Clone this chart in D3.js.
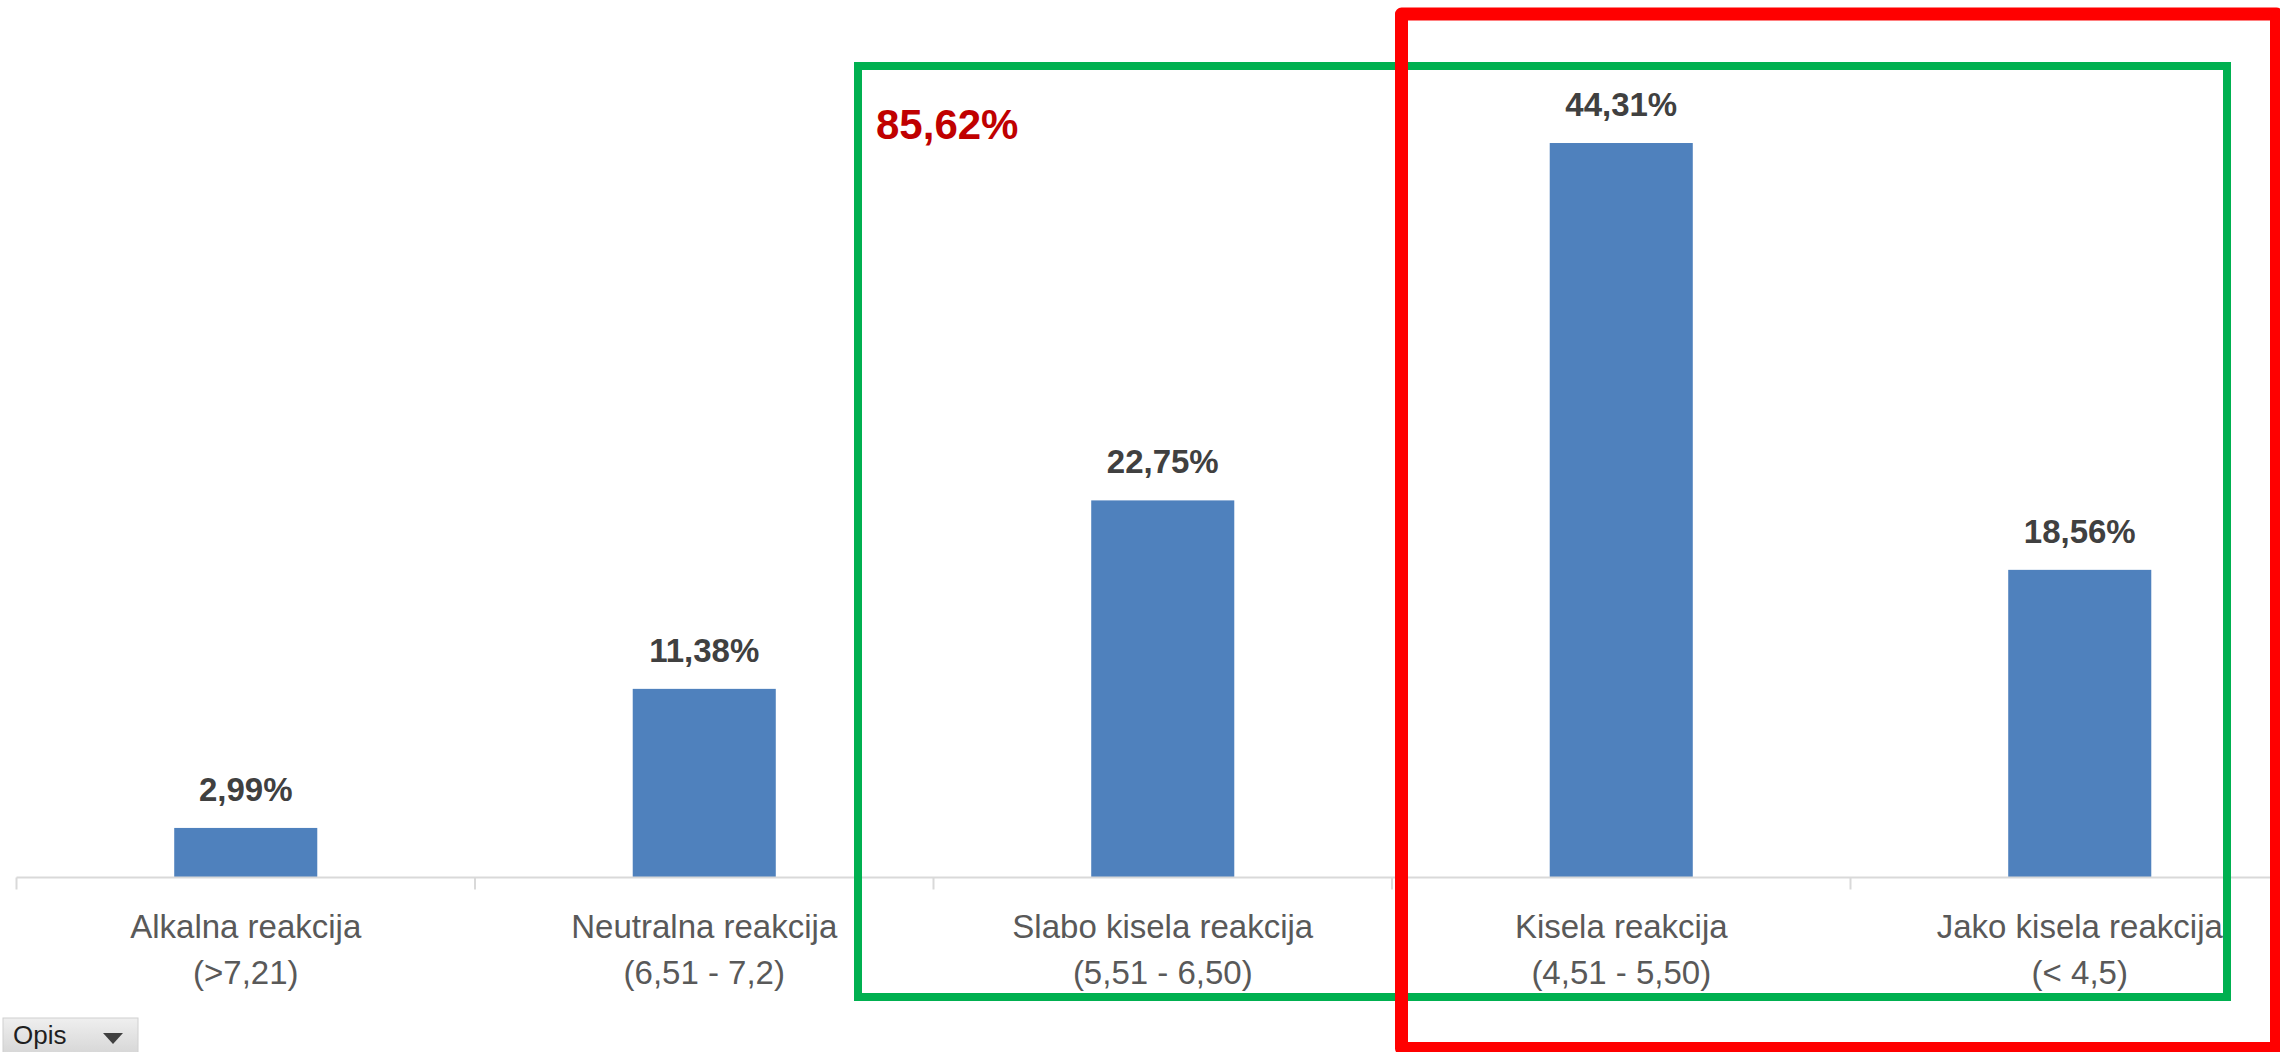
<!DOCTYPE html>
<html>
<head>
<meta charset="utf-8">
<script src="https://cdn.jsdelivr.net/npm/d3@7"></script>
<style>
  html, body { margin: 0; padding: 0; background: #fff; }
  svg { display: block; }
  .cat-label { font-family: "Liberation Sans", Arial, sans-serif; font-size: 33px; fill: #595959; }
  .val-label { font-family: "Liberation Sans", Arial, sans-serif; font-size: 33px; font-weight: bold; fill: #404040; }
</style>
</head>
<body>
<svg id="chart"></svg>
<script>
// ---------------------------------------------------------------
// data: soil pH reaction classes (share of samples, %)
// ---------------------------------------------------------------
const categories = [
  "Alkalna reakcija",
  "Neutralna reakcija",
  "Slabo kisela reakcija",
  "Kisela reakcija",
  "Jako kisela reakcija"
];
const ranges = ["(>7,21)", "(6,51 - 7,2)", "(5,51 - 6,50)", "(4,51 - 5,50)", "(< 4,5)"];
const values = [2.99, 11.38, 22.75, 44.31, 18.56];
const acidIdx = [2, 3, 4];   // classes summed in the green box

const W = 2280, H = 1052;
const svg = d3.select("#chart").attr("width", W).attr("height", H);

const fmt = v => v.toFixed(2).replace(".", ",") + "%";

// ---------------------------------------------------------------
// scales
// ---------------------------------------------------------------
const baseY = 877.5;
const x = d3.scaleBand()
  .domain(categories)
  .range([16.5, 2309])
  .paddingInner(0.688)
  .paddingOuter(0.344);

const y = d3.scaleLinear()
  .domain([0, 50])
  .range([baseY, baseY - 828.8]);

// ---------------------------------------------------------------
// bars + value labels
// ---------------------------------------------------------------
const data = categories.map((c, i) => ({ cat: c, range: ranges[i], value: values[i] }));

svg.append("g")
  .selectAll("rect")
  .data(data)
  .join("rect")
    .attr("x", d => x(d.cat))
    .attr("y", d => y(d.value))
    .attr("width", x.bandwidth())
    .attr("height", d => baseY - y(d.value))
    .attr("fill", "#4F81BD");

svg.append("g")
  .selectAll("text")
  .data(data)
  .join("text")
    .attr("class", "val-label")
    .attr("x", d => x(d.cat) + x.bandwidth() / 2)
    .attr("y", d => y(d.value) - 27)
    .attr("text-anchor", "middle")
    .text(d => fmt(d.value));

// ---------------------------------------------------------------
// category axis (line, boundary ticks, two-line labels)
// ---------------------------------------------------------------
const [x0, x1] = x.range();
const step = x.step();
const axisG = svg.append("g");

axisG.append("line")
  .attr("x1", x0).attr("x2", x1)
  .attr("y1", baseY).attr("y2", baseY)
  .attr("stroke", "#D9D9D9").attr("stroke-width", 2);

axisG.selectAll("line.tick")
  .data(d3.range(categories.length + 1))
  .join("line")
    .attr("class", "tick")
    .attr("x1", i => x0 + i * step).attr("x2", i => x0 + i * step)
    .attr("y1", baseY).attr("y2", baseY + 12)
    .attr("stroke", "#D9D9D9").attr("stroke-width", 2);

const labels = axisG.selectAll("text")
  .data(data)
  .join("text")
    .attr("class", "cat-label")
    .attr("text-anchor", "middle")
    .attr("transform", d => `translate(${x(d.cat) + x.bandwidth() / 2},0)`);
labels.append("tspan").attr("x", 0).attr("y", 938).text(d => d.cat);
labels.append("tspan").attr("x", 0).attr("y", 984).text(d => d.range);

// ---------------------------------------------------------------
// highlight boxes
// ---------------------------------------------------------------
const total = d3.sum(acidIdx, i => values[i]);

svg.append("rect")
  .attr("x", 858).attr("y", 66)
  .attr("width", 2227 - 858).attr("height", 997 - 66)
  .attr("fill", "none")
  .attr("stroke", "#00B050")
  .attr("stroke-width", 8);

svg.append("rect")
  .attr("x", 1401.5).attr("y", 14)
  .attr("width", 2276.5 - 1401.5).attr("height", 1048.5 - 14)
  .attr("fill", "none")
  .attr("stroke", "#FF0000")
  .attr("stroke-width", 13)
  .attr("stroke-linejoin", "round");

svg.append("text")
  .attr("x", 876).attr("y", 139)
  .attr("font-family", "'Liberation Sans', Arial, sans-serif")
  .attr("font-size", 42)
  .attr("font-weight", "bold")
  .attr("fill", "#C00000")
  .text(fmt(total));

// ---------------------------------------------------------------
// pivot field button "Opis"
// ---------------------------------------------------------------
const grad = svg.append("defs").append("linearGradient")
  .attr("id", "btn").attr("x1", 0).attr("y1", 0).attr("x2", 0).attr("y2", 1);
grad.append("stop").attr("offset", "0%").attr("stop-color", "#EFEFEF");
grad.append("stop").attr("offset", "100%").attr("stop-color", "#D4D4D4");

const btn = svg.append("g");
btn.append("rect")
  .attr("x", 3).attr("y", 1018).attr("width", 135).attr("height", 40)
  .attr("fill", "url(#btn)")
  .attr("stroke", "#D0D0D0");
btn.append("text")
  .attr("x", 13).attr("y", 1044)
  .attr("font-family", "'Liberation Sans', Arial, sans-serif")
  .attr("font-size", 26)
  .attr("fill", "#1F1F1F")
  .text("Opis");
btn.append("path")
  .attr("d", "M103,1033 L123,1033 L113,1044 Z")
  .attr("fill", "#404040");
</script>
</body>
</html>
